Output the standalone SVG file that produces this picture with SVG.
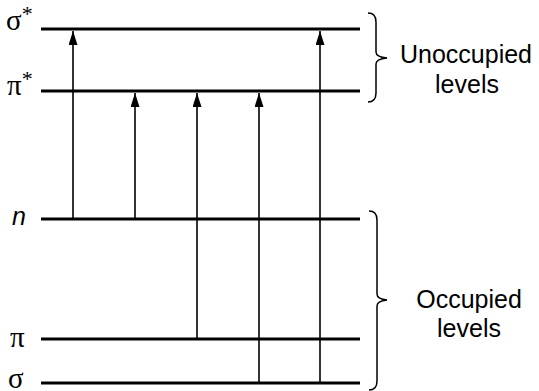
<svg xmlns="http://www.w3.org/2000/svg" width="539" height="391" viewBox="0 0 539 391">
  <style>
    .level { stroke: #000; stroke-width: 3; fill: none; }
    .arrow { stroke: #000; stroke-width: 1.6; fill: none; marker-end: url(#head); }
    .brace { stroke: #000; stroke-width: 1.5; fill: none; stroke-linejoin: miter; }
    .greek { font-family: "Liberation Serif", "Times New Roman", serif; font-size: 29px; fill: #000; }
    .sup { font-size: 22px; }
    .lab { font-family: "Liberation Sans", Arial, sans-serif; font-size: 25px; fill: #000; text-anchor: middle; }
    .ital { font-family: "Liberation Sans", Arial, sans-serif; font-size: 25px; font-style: italic; fill: #000; }
  </style>
  <defs>
    <marker id="head" markerUnits="userSpaceOnUse" markerWidth="14" markerHeight="9" viewBox="0 0 14 9" refX="14" refY="4.5" orient="auto">
      <path d="M0,0 L14,4.5 L0,9 Z" fill="#000"/>
    </marker>
  </defs>

  <!-- energy levels -->
  <g id="sigma-star">
    <line class="level" x1="41" y1="29" x2="360" y2="29"/>
    <text class="greek" x="6" y="30">σ<tspan class="sup" dy="-9">*</tspan></text>
  </g>
  <g id="pi-star">
    <line class="level" x1="41" y1="91" x2="360" y2="91"/>
    <text class="greek" x="7" y="95">π<tspan class="sup" dy="-9">*</tspan></text>
  </g>
  <g id="n">
    <line class="level" x1="41" y1="219" x2="360" y2="219"/>
    <text class="ital" x="12" y="225">n</text>
  </g>
  <g id="pi">
    <line class="level" x1="41" y1="339" x2="360" y2="339"/>
    <text class="greek" x="10" y="347">π</text>
  </g>
  <g id="sigma">
    <line class="level" x1="41" y1="383" x2="360" y2="383"/>
    <text class="greek" x="8" y="388">σ</text>
  </g>

  <!-- group labels with braces -->
  <g id="unoccupied">
    <path class="brace" d="M368,13 Q376,13 376,22 L376,52 Q376,57 387,58 Q376,59 376,64 L376,93 Q376,102 368,102"/>
    <text class="lab" x="466" y="63">Unoccupied</text>
    <text class="lab" x="467" y="93">levels</text>
  </g>
  <g id="occupied">
    <path class="brace" d="M369,211 Q377,211 377,220 L377,294 Q377,299 387,300 Q377,301 377,306 L377,381 Q377,390 369,390"/>
    <text class="lab" x="469" y="308">Occupied</text>
    <text class="lab" x="469" y="337">levels</text>
  </g>

  <!-- transitions -->
  <g id="connectors">
    <line class="arrow" x1="73" y1="219" x2="73" y2="31"/>
    <line class="arrow" x1="135" y1="219" x2="135" y2="93"/>
    <line class="arrow" x1="197" y1="339" x2="197" y2="93"/>
    <line class="arrow" x1="259" y1="383" x2="259" y2="93"/>
    <line class="arrow" x1="320" y1="383" x2="320" y2="31"/>
  </g>
</svg>
